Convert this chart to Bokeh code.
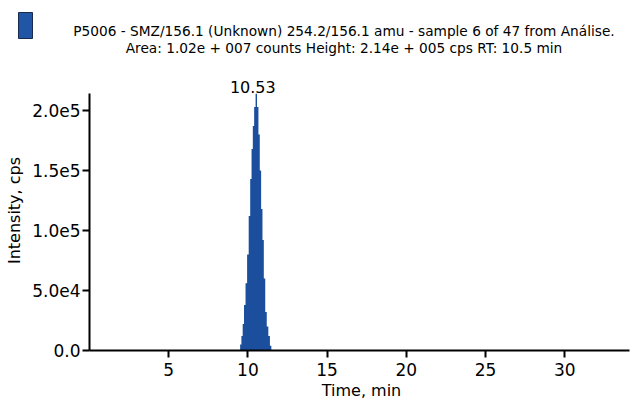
from bokeh.plotting import figure
from bokeh.layouts import column
from bokeh.models import FixedTicker, Label, BoxAnnotation, Range1d
from bokeh.embed import file_html
from bokeh.resources import INLINE

# ---- data ----
time_min = [9.47, 9.55, 9.63, 9.71, 9.80, 9.90, 10.00, 10.10, 10.19, 10.27, 10.35, 10.44,
            10.53, 10.62, 10.71, 10.79, 10.88, 10.96, 11.05, 11.14, 11.24, 11.34, 11.44, 11.52]
intensity = [0, 5000, 12000, 22000, 38000, 56000, 80000, 112000, 143000, 168000, 187000, 203000,
             214000, 203000, 180000, 150000, 118000, 92000, 60000, 32000, 20000, 12000, 4000, 0]
x_ticks = [5, 10, 15, 20, 25, 30]
y_ticks = [0, 50000, 100000, 150000, 200000]
y_tick_labels = ["0.0", "5.0e4", "1.0e5", "1.5e5", "2.0e5"]
peak_rt = 10.53
title_line1 = "P5006 - SMZ/156.1 (Unknown) 254.2/156.1 amu - sample 6 of 47 from Análise."
title_line2 = "Area: 1.02e + 007 counts Height: 2.14e + 005 cps RT: 10.5 min"
x_label = "Time, min"
y_label = "Intensity, cps"

FONT = "DejaVu Sans"
BLUE = "#1b4f9e"
W = 633
HEADER_H = 70
MAIN_H = 403 - HEADER_H


def no_align(fig):
    if "frame_align" in type(fig).properties():
        fig.frame_align = False


# ---- header (legend swatch + two-line caption) ----
h = figure(width=W, height=HEADER_H, output_backend="svg", toolbar_location=None,
           x_axis_type=None, y_axis_type=None, x_range=Range1d(0, W), y_range=Range1d(0, HEADER_H),
           min_border=0, min_border_left=0, min_border_right=0, min_border_top=0, min_border_bottom=0)
no_align(h)
h.outline_line_color = None
h.xgrid.grid_line_color = None
h.ygrid.grid_line_color = None
h.add_layout(BoxAnnotation(left=18, right=32, top=58, bottom=32,
                           left_units="screen", right_units="screen",
                           top_units="screen", bottom_units="screen",
                           fill_color="#2155a5", fill_alpha=1.0,
                           line_color="#1a2a4a", line_alpha=1.0, line_width=1))
h.add_layout(Label(x=343.5, y=40, x_units="screen", y_units="screen", text=title_line1,
                   text_font=FONT, text_font_size="13.7px", text_align="center",
                   text_baseline="alphabetic", text_color="black"))
h.add_layout(Label(x=343.5, y=23, x_units="screen", y_units="screen", text=title_line2,
                   text_font=FONT, text_font_size="13.7px", text_align="center",
                   text_baseline="alphabetic", text_color="black"))

# ---- main chromatogram ----
px_per_min = 15.84
frame_w = W - 89
frame_h = 280
y_top = frame_h * 50000 / 60.0
p = figure(width=W, height=MAIN_H, output_backend="svg", toolbar_location=None,
           x_range=Range1d(0, frame_w / px_per_min), y_range=Range1d(0, y_top),
           min_border_left=89, min_border_right=0, min_border_top=0, min_border_bottom=53)
no_align(p)
p.outline_line_color = None
p.xgrid.grid_line_color = None
p.ygrid.grid_line_color = None

p.varea_step(x=time_min, y1=[0] * len(time_min), y2=intensity, step_mode="center",
             fill_color=BLUE)

for ax in (p.xaxis[0], p.yaxis[0]):
    ax.axis_line_width = 2
    ax.axis_line_color = "black"
    ax.major_tick_line_width = 2
    ax.major_tick_line_color = "black"
    ax.major_tick_out = 7
    ax.major_tick_in = 0
    ax.minor_tick_line_color = None
    ax.major_label_text_font = FONT
    ax.major_label_text_font_size = "17px"
    ax.major_label_text_color = "black"
    ax.axis_label_text_font = FONT
    ax.axis_label_text_font_size = "16px"
    ax.axis_label_text_font_style = "normal"
    ax.axis_label_text_color = "black"

p.xaxis.ticker = FixedTicker(ticks=x_ticks)
p.yaxis.ticker = FixedTicker(ticks=y_ticks)
p.yaxis.major_label_overrides = {t: l for t, l in zip(y_ticks, y_tick_labels)}
p.xaxis.major_label_standoff = 5
p.yaxis.major_label_standoff = 2
p.xaxis.axis_label = x_label
p.yaxis.axis_label = y_label
p.xaxis.axis_label_standoff = 2
p.yaxis.axis_label_standoff = 5
p.xaxis.bounds = (-0.45, 34.1)
p.yaxis.bounds = (0, max(intensity))

# peak annotation: x in data units, baseline 264 px above the frame bottom
p.add_layout(Label(x=peak_rt, y=264, y_units="screen", x_offset=-3.5,
                   text=f"{peak_rt:.2f}", text_font=FONT, text_font_size="16px",
                   text_align="center", text_baseline="alphabetic", text_color="black"))

layout = column(h, p, spacing=0)
open("out.html", "w").write(file_html(layout, INLINE))
